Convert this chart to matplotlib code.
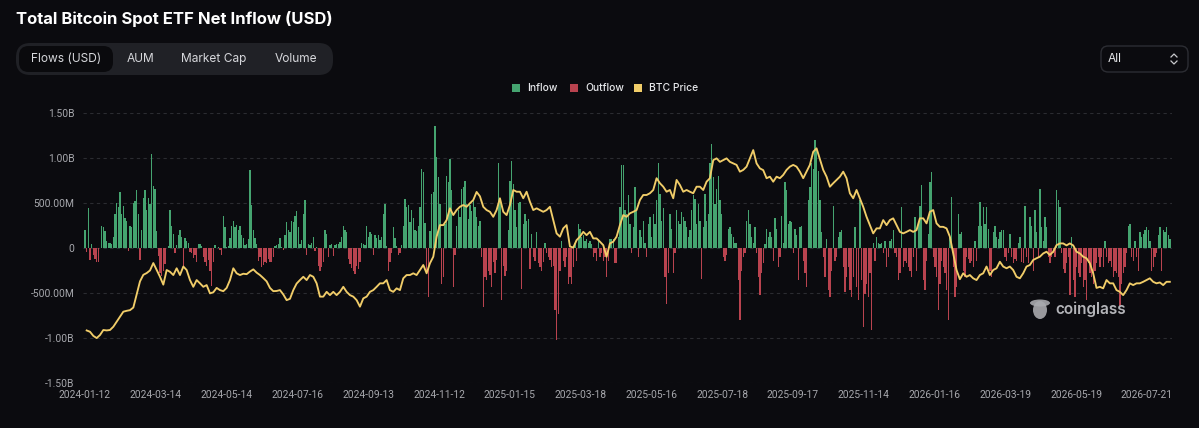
import numpy as np
import matplotlib
matplotlib.use("Agg")
import matplotlib.pyplot as plt
from matplotlib.patches import FancyBboxPatch, Rectangle
from matplotlib.lines import Line2D

# ---------------- data (net flows in million USD, one bar per trading day) ----------------
flows_2024a = [195,-40,450,-130,40,-80,-120,-150,-160,0,
               240,230,190,80,60,60,40,120,380,500,
               460,620,380,470,330,300,-30,240,230,500,
               520,650,380,-130,200,560,640,420,560,490,
               1040,690,660,190,-90,-280,-310,-250,-180,0,
               20,420,250,160,-60,30,150,200,120,-200,
               110,80,60,-40,-60,-110,-80,-160,50,50,
               20,-100,-150,-200,-130,-250,-420,-150,30,0,
               10,-20,-80,360,230,10,20,110,250,300,
               230,260,200,240,140,110,30,50,100,870,
               480,200,110,40,-140,-100,-210,-190,-160,-170,
               -120,-150,-160,-100,20,30,40,110,10,-20,
               150,290,200,180,300,290,360,410,230]
flows_2024b = [40,90,380,530,-80,40,30,60,120,-30,
               10,-200,-250,-210,-150,200,160,-100,30,40,
               -90,30,50,40,70,120,250,200,180,-120,
               -180,-220,-250,-290,-200,-230,-150,60,40,30,
               250,120,180,160,-80,150,110,140,90,120,
               380,490,20,-250,-150,-60,230,110,20,-80,
               -60,30,250,550,455,475,290,420,330,200,
               190,240,455,880,840,280,-250,-540,190,600,
               620,1360,1010,790,490,-400,-320,270,800,730,
               990,640,-430,-80,250,420,350,660,680,750,
               490,320,480,410,520,460,340,250,300,-100,
               -650,-320,-360,-250,-300,-430,-150,-280,-130,950,
               530,-580,-200,-310,-250,200,750,970,710,420,
               230,500]
flows_2025a = [510,-450,270,380,300,320,-230,160,-100,-140,
               180,-170,-210,-250,-150,60,-60,-100,-130,-210,
               -200,-690,-1020,-730,-250,80,-140,-210,-100,-400,
               -320,-400,-210,60,-140,270,210,120,140,80,
               100,60,80,50,-100,-60,-140,100,-100,-60,
               -140,-100,-320,-140,100,100,100,-170,-170,120,
               455,920,920,420,380,585,270,-60,230,680,
               420,-100,200,120,300,60,-100,270,340,120,
               380,270,530,940,600,300,440,-320,-620,-280,
               380,210,-280,-60,420,300,270,400,340,300,
               230,120,200,420,585,550,270,490,300,-340,
               230,600,300,380,940,1160,790,490,660,800,
               530,380,-100,-140,-80,210,230,160,120,60,
               60,-360]
flows_2025b = [-800,-250,-100,-60,300,420,270,120,60,230,
               -60,-320,-525,-280,-170,50,210,120,180,120,
               -140,330,210,-210,-100,360,60,730,640,270,
               300,290,-60,210,140,-360,230,250,-140,-280,
               -430,530,680,940,880,1200,1100,860,530,180,
               -100,-320,100,-470,-540,-250,470,-140,-100,120,
               180,200,-210,-490,-320,-210,-470,-540,-320,230,
               -430,-580,530,-360,-880,-510,-400,-540,-280,-910,
               60,-140,120,60,40,60,-60,80,-210,-100,
               80,100,200,-60,-100,-360,-280,455,-210,-140,
               -170,-210,-250,-320,-100,340,-250,270,470,700,
               -360,-470,-140,160,730,840,-100,-210,-320,-690,
               -400,-140,-210,-280,-470,-800,120,565,-210,-540,
               -430,380]
flows_2026 = [160,180,-250,-320,-100,-120,-170,-140,-210,80,
              -140,250,510,250,455,270,455,210,-250,-320,
              180,250,120,100,180,200,200,-100,-140,-60,
              160,-100,-170,-120,-140,60,120,-150,-170,470,
              -100,-170,340,250,-250,420,180,-100,660,230,
              80,340,230,-100,-170,-100,-60,-100,640,530,
              455,-60,-230,-280,-170,-100,-525,120,-360,-540,
              -210,-280,-320,-170,-430,-360,-580,-170,-280,-320,
              -400,-250,-170,-100,-210,-100,-210,80,-100,-170,
              -140,-210,-320,-250,-280,-320,-650,-400,-280,-210,
              -60,250,270,-100,-140,80,-100,-250,180,120,
              160,200,230,200,80,-250,-210,-100,-60,140,
              230,-250,200,180,230,140,100]

# BTC price (thousand USD), sampled every second trading day
btc_price_k = [42.5,41.9,40,39,40.4,42.7,42.5,42.7,44.2,46.5,
               48.8,51.1,51.5,51.8,53,59,65,68,68.8,70,
               73.4,70.2,67.1,63.5,70.2,69.4,67.9,71.0,67.9,71.8,
               70.2,65.6,62.5,65.6,64.1,62.5,63.3,59.5,60,62,
               61,60.5,62,65.6,71.0,68.7,67.9,68.5,68.3,69.5,
               70.5,69,67.9,66.5,65,62,60.5,60.6,61,59,
               56.4,57,61,64,65.6,67.1,65.6,67.9,67.1,64.1,
               58,58,60.2,58.7,60.2,58.7,60.2,62.5,60.2,58.7,
               58,56.4,53.4,57.2,58,60.2,61,62.5,64.1,64.1,
               65.6,61,60.2,61.8,61,66.4,67.9,67.9,68.7,67.9,
               70.2,72.5,68.7,73.3,76.3,85.5,90.8,90.8,93.1,98.5,
               95.4,97.7,99.2,100,99.2,100.8,102.3,106,104,99.2,
               97.7,96.9,94.6,97.7,103.1,96.9,95.4,100,106.9,106.1,
               106.1,103.1,106.1,101.5,97.7,98.5,97.7,96.9,97.7,99.2,
               93.1,87,85.5,89.3,90.8,81,80.5,83.9,85.5,87.7,
               86.2,87.7,84.7,84.7,83.2,81.6,76.3,82.4,83.2,85.5,
               90.8,95.4,94.6,96.2,96.9,97.7,102.3,104.6,104.6,105.4,
               106.9,112.3,110,108.4,106.1,106.9,103.1,111.5,109.2,106.1,
               106.9,106.1,105.4,108.4,108.4,106.9,110.7,112.3,120.6,121.4,
               119.8,120.6,121.4,119.8,119.1,118.4,115.3,116.1,117.6,121.4,
               125.2,119.1,116.8,116,112.3,113,110.7,113,112.3,113.8,
               116.1,117.6,118.4,117.6,115.3,112.3,115.3,118.4,124.4,126,
               121,116.1,113,108.4,110,111.5,113,115.3,112.3,105.4,
               103.1,106.9,103.1,99.2,94.6,90.8,87,89.3,89.3,93.1,
               90.8,93.1,93.9,90.8,87.7,87,87.7,88.5,87.7,88.5,
               93.9,93.9,91.6,96.9,97.7,91.6,90,90,89.3,85.5,
               77.8,70.2,66,68.7,67.1,67.9,66.4,65.6,67.9,68.7,
               71.8,67.9,70.2,71,74,71.8,71,71.8,70.2,67.1,
               66.4,68.7,71.8,72.5,74.8,75.6,76.3,77.8,78.6,77.1,
               78.6,81.6,82.4,82.4,81.5,82.4,81.5,78.6,77.8,76.3,
               75.6,73.3,68.7,62,62.5,61.8,65.6,64.1,64.1,61,
               60.2,58.7,61,64.1,63.3,64.1,64.1,64.8,65.6,66.4,
               64.8,64.1,64.5,63.3,64.8,64.8]

date_labels = ["2024-01-12","2024-03-14","2024-05-14","2024-07-16","2024-09-13",
               "2024-11-12","2025-01-15","2025-03-18","2025-05-16","2025-07-18",
               "2025-09-17","2025-11-14","2026-01-16","2026-03-19","2026-05-19",
               "2026-07-21"]
ytick_vals = [-1.5e9, -1.0e9, -0.5e9, 0, 0.5e9, 1.0e9, 1.5e9]
ytick_labels = ["-1.50B", "-1.00B", "-500.00M", "0", "500.00M", "1.00B", "1.50B"]
tabs = ["Flows (USD)", "AUM", "Market Cap", "Volume"]

# ---------------- style ----------------
BG = "#0b0b0f"
GREEN = "#45a470"
RED = "#b9434f"
YELLOW = "#f1cd69"
GRID = "#2b2c31"
TICK = "#a7a8ad"
FONT = ["Inter", "DejaVu Sans"]
NUMFONT = ["Roboto", "DejaVu Sans"]

W, H = 1199, 428
fig = plt.figure(figsize=(W / 100, H / 100), dpi=100, facecolor=BG)

def fx(px):
    return px / W

def fy(py):
    return 1 - py / H

flows = np.concatenate([flows_2024a, flows_2024b, flows_2025a, flows_2025b, flows_2026]).astype(float) * 1e6
xs = np.arange(len(flows))
price = np.array(btc_price_k) * 1e3
price_x = 1 + 2 * np.arange(len(price))

ax = fig.add_axes([fx(83), fy(383), fx(1172 - 83), (383 - 113) / H])
ax.set_facecolor(BG)
bar_colors = [GREEN if v >= 0 else RED for v in flows]
ax.bar(xs, flows, width=0.8, color=bar_colors, linewidth=0, zorder=2, antialiased=False)
ax.set_ylim(-1.5e9, 1.5e9)
ax.set_xlim(-1.2, len(flows) + 0.3)
ax.set_yticks(ytick_vals)
ax.set_yticklabels(ytick_labels, fontfamily=NUMFONT, fontsize=7.4, color=TICK)
tick_pos = [k * 42.48 for k in range(len(date_labels))]
ax.set_xticks(tick_pos)
ax.set_xticklabels(date_labels, fontfamily=NUMFONT, fontsize=7.4, color=TICK)
ax.tick_params(axis="both", length=0, pad=6)
ax.tick_params(axis="x", pad=5)
ax.grid(axis="y", color=GRID, linestyle=(0, (3, 3)), linewidth=0.8, zorder=0)
for s in ax.spines.values():
    s.set_visible(False)

ax2 = ax.twinx()
ax2.plot(price_x, price, color=YELLOW, linewidth=1.35, zorder=3)
ax2.set_ylim(18.4e3, 142.2e3)
ax2.set_yticks([])
for s in ax2.spines.values():
    s.set_visible(False)

# ---------------- header ----------------
fig.text(fx(16), fy(19), "Total Bitcoin Spot ETF Net Inflow (USD)", fontsize=12.0,
         fontweight="bold", color="#ffffff", fontfamily=FONT, va="center", ha="left")

# tab bar
fig.patches.append(FancyBboxPatch((fx(16), fy(75)), fx(333 - 16), (75 - 43) / H,
                                  boxstyle="round,pad=0,rounding_size=0.012",
                                  transform=fig.transFigure, facecolor="#202126",
                                  edgecolor="none", mutation_aspect=W / H))
fig.patches.append(FancyBboxPatch((fx(19), fy(72)), fx(113 - 19), (72 - 46) / H,
                                  boxstyle="round,pad=0,rounding_size=0.008",
                                  transform=fig.transFigure, facecolor="#0a0a0d",
                                  edgecolor="none", mutation_aspect=W / H))
for label, cx in zip(tabs, [66, 141, 214, 296]):
    fig.text(fx(cx), fy(59), label, fontsize=8.6, color="#d6d7db",
             fontfamily=FONT, ha="center", va="center")

# "All" selector
fig.patches.append(FancyBboxPatch((fx(1101), fy(72)), fx(1188 - 1101), (72 - 46) / H,
                                  boxstyle="round,pad=0,rounding_size=0.006",
                                  transform=fig.transFigure, facecolor=BG,
                                  edgecolor="#2c2d33", linewidth=1.0, mutation_aspect=W / H))
fig.text(fx(1108), fy(59), "All", fontsize=8.6, color="#e4e5e8",
         fontfamily=FONT, ha="left", va="center")
for (y0, y1) in [(57, 54), (61, 64)]:
    fig.add_artist(Line2D([fx(1171), fx(1174), fx(1177)], [fy(y0), fy(y1), fy(y0)],
                          color="#c9cace", linewidth=0.9, transform=fig.transFigure))

# legend
legend_items = [("Inflow", GREEN, 516), ("Outflow", RED, 574), ("BTC Price", YELLOW, 638)]
for label, col, px in legend_items:
    fig.patches.append(Rectangle((fx(px - 4), fy(92)), fx(8), 8 / H,
                                 transform=fig.transFigure, facecolor=col, edgecolor="none"))
    fig.text(fx(px + 11), fy(88), label, fontsize=7.4, color="#e6e7ea",
             fontfamily=FONT, fontweight="medium", ha="left", va="center")

# watermark
fig.add_artist(matplotlib.patches.Ellipse((fx(1040), fy(310)), fx(14), 18 / H,
                                          transform=fig.transFigure, facecolor="#a9aaae",
                                          edgecolor="none", alpha=0.9))
fig.add_artist(matplotlib.patches.Ellipse((fx(1040), fy(303)), fx(20), 7 / H,
                                          transform=fig.transFigure, facecolor="#a9aaae",
                                          edgecolor="none", alpha=0.9))
fig.text(fx(1055), fy(309), "coinglass", fontsize=11, color="#b3b4b8",
         fontfamily=FONT, fontweight="semibold", ha="left", va="center")

fig.savefig("out.png", dpi=100, facecolor=BG)
